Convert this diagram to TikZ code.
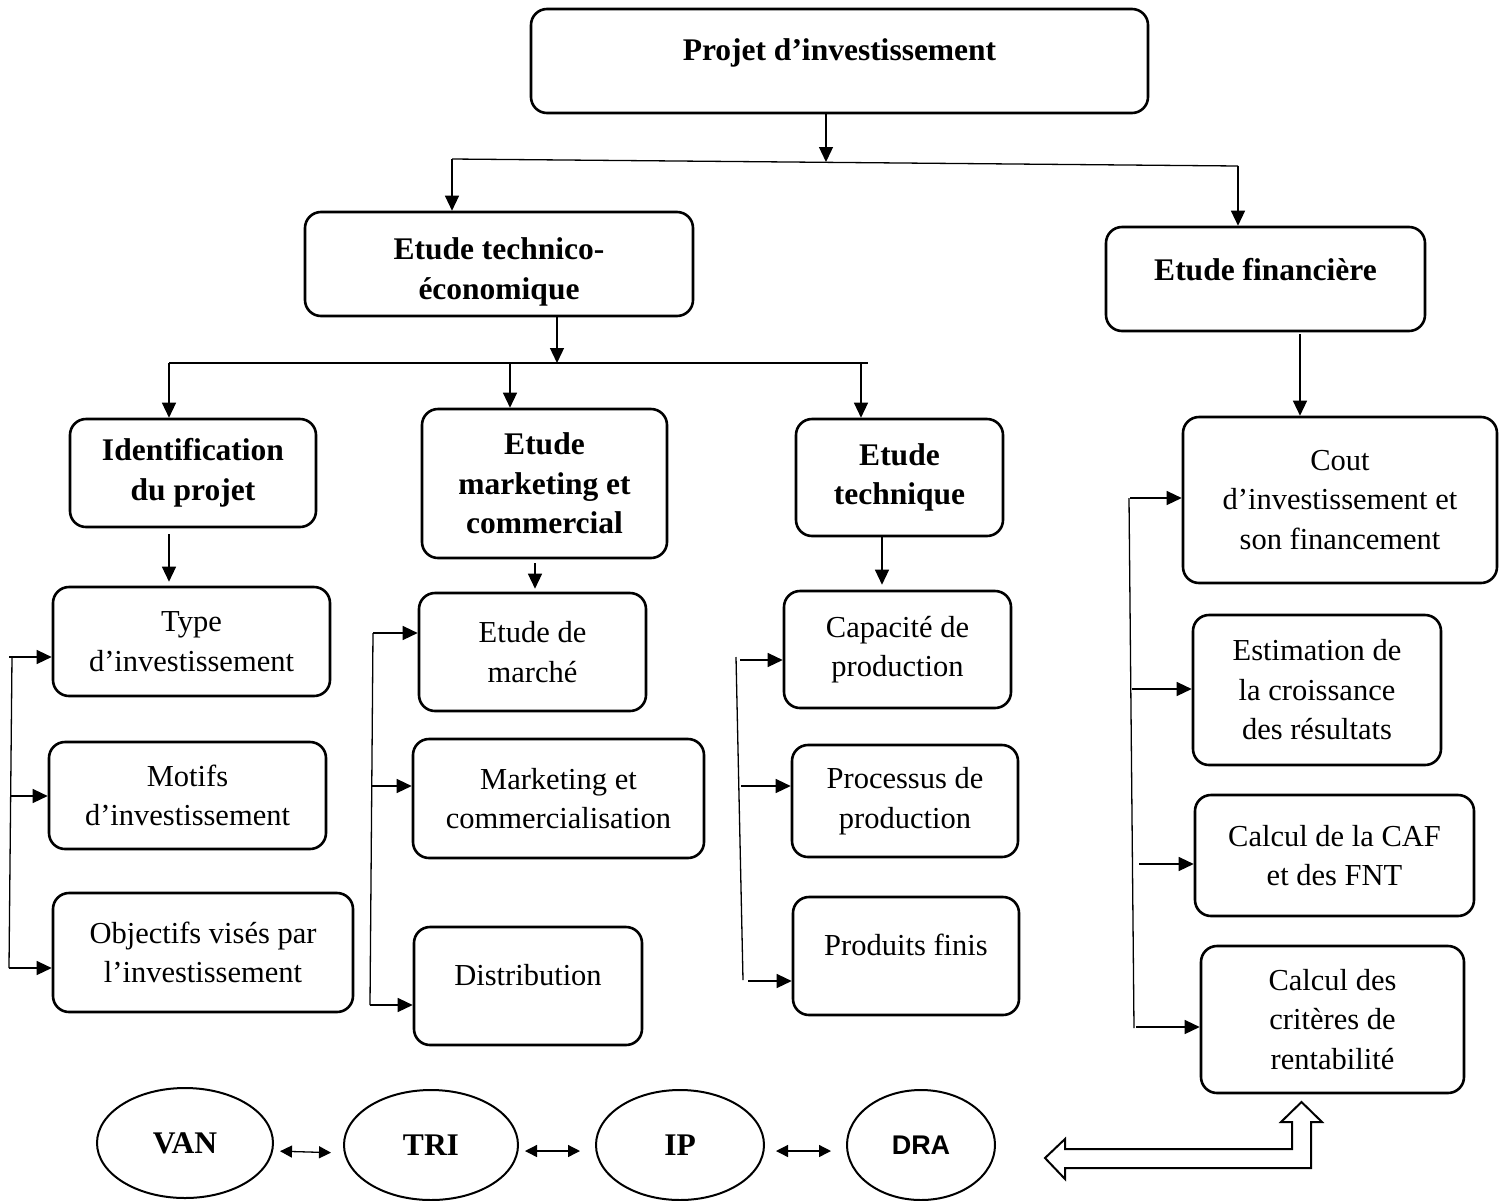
\documentclass[tikz,border=0pt]{standalone}
\usepackage{fontspec}
\setmainfont{Liberation Serif}
\setsansfont{Liberation Sans}
\usetikzlibrary{arrows.meta,shapes.geometric,calc}

\begin{document}
\begin{tikzpicture}[x=1pt,y=-1pt,
  box/.style={draw, line width=2.6pt, rounded corners=16pt, align=center,
    inner sep=0pt, font=\fontsize{30.5}{39.5}\selectfont},
  head/.style={box, font=\fontsize{31.5}{39.5}\selectfont\bfseries},
  oval/.style={draw, ellipse, line width=2pt, inner sep=0pt,
    font=\fontsize{31.5}{36}\selectfont\bfseries},
  arr/.style={-{Triangle[length=15pt,width=14pt]}, line width=1.3pt},
  link/.style={line width=1.3pt},
  darr/.style={{Triangle[length=12pt,width=12pt]}-{Triangle[length=12pt,width=12pt]}, line width=1.3pt},
  hollow/.style={draw, line width=2pt, line join=miter}
]
\fill[white] (0,0) rectangle (1505,1200);
\useasboundingbox (0,0) rectangle (1505,1200);

% ---- main blocks
\node[head, minimum width=617pt, minimum height=104pt, text height=22pt, text depth=23pt]
  (proj) at (839.5,61) {Projet d’investissement};
\node[head, minimum width=388pt, minimum height=104pt, text height=78pt, text depth=8pt]
  (eco) at (499,264) {Etude technico-\\économique};
\node[head, minimum width=319pt, minimum height=104pt, text height=22pt, text depth=20pt]
  (fin) at (1265.5,279) {Etude financière};

% ---- technico-economic sub-studies
\node[head, minimum width=246pt, minimum height=108pt] (ident) at (193,473) {Identification\\du projet};
\node[head, minimum width=245pt, minimum height=149pt] (mkt) at (544.5,483.5) {Etude\\marketing et\\commercial};
\node[head, minimum width=207pt, minimum height=117pt] (tech) at (899.5,477.5) {Etude\\technique};

% ---- items of each study
\node[box, minimum width=277pt, minimum height=109pt] (type) at (191.5,641.5) {Type\\d’investissement};
\node[box, minimum width=277pt, minimum height=107pt] (motif) at (187.5,795.5) {Motifs\\d’investissement};
\node[box, minimum width=300pt, minimum height=119pt] (obj) at (203,952.5) {Objectifs visés par\\l’investissement};

\node[box, minimum width=227pt, minimum height=118pt] (march) at (532.5,652) {Etude de\\marché};
\node[box, minimum width=291pt, minimum height=119pt] (comm) at (558.5,798.5) {Marketing et\\commercialisation};
\node[box, minimum width=228pt, minimum height=118pt, text height=22pt, text depth=23pt]
  (dist) at (528,986) {Distribution};

\node[box, minimum width=227pt, minimum height=117pt] (cap) at (897.5,649.5) {Capacité de\\production};
\node[box, minimum width=226pt, minimum height=112pt] (proc) at (905,801) {Processus de\\production};
\node[box, minimum width=226pt, minimum height=118pt, text height=22pt, text depth=23pt]
  (prod) at (906,956) {Produits finis};

\node[box, minimum width=314pt, minimum height=166pt] (cout) at (1340,500) {Cout\\d’investissement et\\son financement};
\node[box, minimum width=248pt, minimum height=150pt] (esti) at (1317,690) {Estimation de\\la croissance\\des résultats};
\node[box, minimum width=279pt, minimum height=121pt] (caf) at (1334.5,855.5) {Calcul de la CAF\\et des FNT};
\node[box, minimum width=263pt, minimum height=147pt] (crit) at (1332.5,1019.5) {Calcul des\\critères de\\rentabilité};

% ---- profitability criteria
\node[oval, minimum width=176pt, minimum height=110pt] (van) at (185,1143) {VAN};
\node[oval, minimum width=174pt, minimum height=110pt] (tri) at (431,1145) {TRI};
\node[oval, minimum width=168pt, minimum height=110pt] (ip) at (680,1145) {IP};
\node[oval, minimum width=148pt, minimum height=110pt, font=\fontsize{27}{30}\selectfont\sffamily\bfseries]
  (dra) at (921,1145) {DRA};

% ---- first split
\coordinate (barL) at (452,159);
\coordinate (barR) at (1238,166);
\coordinate (j0) at (826,162);
\draw[link] (barL) -- (barR);
\draw[arr] (j0 |- proj.south) -- (j0);
\draw[arr] (barL) -- (barL |- eco.north);
\draw[arr] (barR) -- (barR |- fin.north);

% ---- second split
\coordinate (bar2L) at (169,363);
\coordinate (bar2R) at (868,363);
\coordinate (j1) at (557,363);
\coordinate (k2) at (510,363);
\coordinate (k3) at (861,363);
\draw[link] (bar2L) -- (bar2R);
\draw[arr] (j1 |- eco.south) -- (j1);
\draw[arr] (bar2L) -- (bar2L |- ident.north);
\draw[arr] (k2) -- (k2 |- mkt.north);
\draw[arr] (k3) -- (k3 |- tech.north);

% ---- study to first item
\coordinate (c1) at (169,0);
\coordinate (c2) at (535,0);
\coordinate (c3) at (882,0);
\coordinate (c4) at (1300,0);
\draw[arr, shorten <=6pt, shorten >=4pt] (c1 |- ident.south) -- (c1 |- type.north);
\draw[arr, shorten <=4pt, shorten >=3pt] (c2 |- mkt.south) -- (c2 |- march.north);
\draw[arr, shorten >=5pt] (c3 |- tech.south) -- (c3 |- cap.north);
\draw[arr, shorten <=2pt] (c4 |- fin.south) -- (c4 |- cout.north);

% ---- identification branch
\coordinate (bl1) at (12,657);
\coordinate (bl2) at (11,796);
\coordinate (bl3) at (9,968);
\draw[link] (bl1) -- (bl3);
\draw[arr] ([xshift=-3pt]bl1) -- (bl1 -| type.west);
\draw[arr] (bl2) -- (bl2 -| motif.west);
\draw[arr] (bl3) -- (bl3 -| obj.west);

% ---- marketing branch
\coordinate (bm1) at (373,633);
\coordinate (bm2) at (372,786);
\coordinate (bm3) at (370,1005);
\draw[link] (bm1) -- (bm3);
\draw[arr] (bm1) -- (bm1 -| march.west);
\draw[arr] (bm2) -- (bm2 -| comm.west);
\draw[arr] (bm3) -- (bm3 -| dist.west);

% ---- technical branch
\coordinate (bt0) at (736,657);
\coordinate (bt4) at (743,980);
\coordinate (bt1) at (740,660);
\coordinate (bt2) at (741,786);
\coordinate (bt3) at (748,981);
\draw[link] (bt0) -- (bt4);
\draw[arr] (bt1) -- (bt1 -| cap.west);
\draw[arr] (bt2) -- (bt2 -| proc.west);
\draw[arr] (bt3) -- (bt3 -| prod.west);

% ---- financial branch
\coordinate (bf0) at (1129,498);
\coordinate (bf5) at (1134,1028);
\coordinate (bf1) at (1130,498);
\coordinate (bf2) at (1132,689);
\coordinate (bf3) at (1139,864);
\coordinate (bf4) at (1136,1027);
\draw[link] (bf0) -- (bf5);
\draw[arr] (bf1) -- (bf1 -| cout.west);
\draw[arr] (bf2) -- (bf2 -| esti.west);
\draw[arr] (bf3) -- (bf3 -| caf.west);
\draw[arr] (bf4) -- (bf4 -| crit.west);

% ---- links between criteria
\draw[darr, shorten <=6pt, shorten >=12pt] ([yshift=-8pt]van.east) -- ([yshift=-8pt]tri.west);
\draw[darr, shorten <=6pt, shorten >=15pt] ([yshift=-6pt]tri.east) -- ([yshift=-6pt]ip.west);
\draw[darr, shorten <=11pt, shorten >=15pt] ([yshift=-6pt]ip.east) -- ([yshift=-6pt]dra.west);

% ---- hollow elbow arrow
\draw[hollow] (1045,1158) -- (1065,1139) -- (1065,1149) -- (1292,1149) -- (1292,1122)
  -- (1281,1122) -- (1301.5,1102) -- (1322,1122) -- (1311,1122) -- (1311,1168)
  -- (1065,1168) -- (1065,1179) -- cycle;
\end{tikzpicture}
\end{document}
